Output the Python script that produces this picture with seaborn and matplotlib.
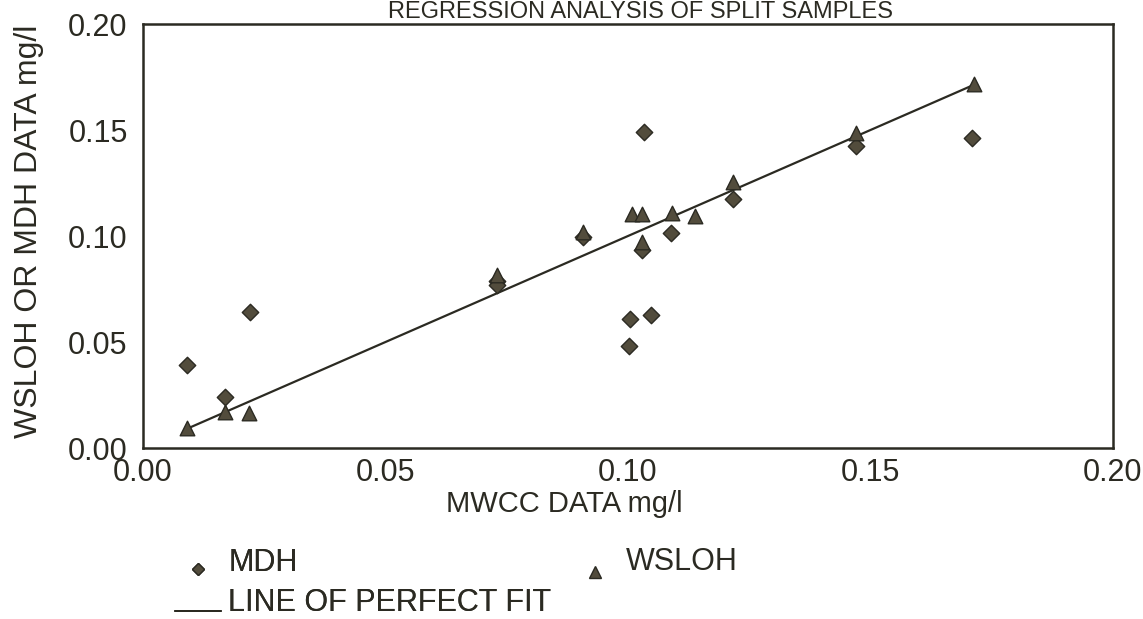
import matplotlib
matplotlib.use("Agg")
import matplotlib.pyplot as plt
import seaborn as sns
import pandas as pd
from matplotlib.lines import Line2D
from matplotlib.legend_handler import HandlerLine2D

# ---- data ----
mdh_x = [0.009, 0.017, 0.022, 0.073, 0.073, 0.0907, 0.1003, 0.1005, 0.1029, 0.1033,
         0.1047, 0.1089, 0.1216, 0.147, 0.171]
mdh_y = [0.039, 0.024, 0.064, 0.079, 0.077, 0.0995, 0.048, 0.061, 0.0935, 0.149,
         0.0628, 0.1015, 0.1175, 0.1425, 0.146]
wsloh_x = [0.009, 0.017, 0.0219, 0.073, 0.0907, 0.1008, 0.1029, 0.1029, 0.109,
           0.1138, 0.1216, 0.147, 0.1713]
wsloh_y = [0.0094, 0.017, 0.0165, 0.0817, 0.102, 0.1104, 0.1104, 0.097, 0.111,
           0.1095, 0.1255, 0.1487, 0.1717]
fit_x = [0.009, 0.171]
fit_y = [0.009, 0.171]
ticks = [0.00, 0.05, 0.10, 0.15, 0.20]
tick_labels = ["0.00", "0.05", "0.10", "0.15", "0.20"]

title = "REGRESSION ANALYSIS OF SPLIT SAMPLES"
xlabel = "MWCC DATA mg/l"
ylabel = "WSLOH OR MDH DATA mg/l"

sns.set_style("white")
plt.rcParams["font.family"] = ["Liberation Sans", "DejaVu Sans"]

ink = "#2b2a22"
marker_col = "#524c3c"


class LowHandler(HandlerLine2D):
    """Legend handle drawn lower in its box, as in the scanned original."""
    def __init__(self, frac, **kw):
        super().__init__(**kw)
        self.frac = frac

    def create_artists(self, legend, orig_handle, xdescent, ydescent,
                       width, height, fontsize, trans):
        arts = super().create_artists(legend, orig_handle, xdescent, ydescent,
                                      width, height, fontsize, trans)
        y = self.frac * height - ydescent
        for a in arts:
            a.set_ydata([y] * len(a.get_xdata()))
        return arts


fig = plt.figure(figsize=(11.43, 6.19), dpi=100)
ax = fig.add_axes([143/1143, 1-448/619, 970/1143, 424/619])

df_mdh = pd.DataFrame({"x": mdh_x, "y": mdh_y})
df_ws = pd.DataFrame({"x": wsloh_x, "y": wsloh_y})
df_fit = pd.DataFrame({"x": fit_x, "y": fit_y})

sns.lineplot(data=df_fit, x="x", y="y", ax=ax, color=ink, linewidth=1.6)
sns.scatterplot(data=df_mdh, x="x", y="y", ax=ax, marker="D", s=70,
                color=marker_col, edgecolor=ink, linewidth=1.0, zorder=3)
sns.scatterplot(data=df_ws, x="x", y="y", ax=ax, marker="^", s=110,
                color=marker_col, edgecolor=ink, linewidth=1.0, zorder=3)

ax.set_xlim(0, 0.20)
ax.set_ylim(0, 0.20)
ax.set_xticks(ticks)
ax.set_xticklabels(tick_labels)
ax.set_yticks(ticks)
ax.set_yticklabels(tick_labels)
ax.tick_params(axis="both", direction="in", length=8, width=1.2, color=ink,
               labelsize=22, labelcolor=ink)
ax.tick_params(axis="x", pad=7)
ax.tick_params(axis="y", pad=11)
for sp in ax.spines.values():
    sp.set_linewidth(1.8)
    sp.set_color(ink)

ax.set_xlabel(xlabel, fontsize=21, color=ink)
ax.xaxis.set_label_coords(0.434, -0.10)
ax.set_ylabel(ylabel, fontsize=23, color=ink)
ax.yaxis.set_label_coords(-0.102, 0.51)

fig.text(0.56, 0.999, title, ha="center", va="top",
         fontsize=17, color=ink)

h_mdh = Line2D([], [], marker="D", linestyle="none", markersize=6.5,
               markerfacecolor=marker_col, markeredgecolor=ink)
h_fit = Line2D([], [], color=ink, linewidth=1.4)
h_ws = Line2D([], [], marker="^", linestyle="none", markersize=8,
              markerfacecolor=marker_col, markeredgecolor=ink)

leg1 = fig.legend(handles=[h_mdh, h_fit], labels=["MDH", "LINE OF PERFECT FIT"],
                  loc="center left", bbox_to_anchor=(175/1143, 1 - 583/619),
                  frameon=False, fontsize=22, handlelength=1.5,
                  handletextpad=0.25, labelspacing=0.35, borderpad=0,
                  borderaxespad=0, labelcolor=ink,
                  handler_map={h_mdh: LowHandler(0.1), h_fit: LowHandler(0.0)})
leg2 = fig.legend(handles=[h_ws], labels=["WSLOH"],
                  loc="center left", bbox_to_anchor=(572/1143, 1 - 562/619),
                  frameon=False, fontsize=22, handlelength=1.5,
                  handletextpad=0.25, borderpad=0, borderaxespad=0,
                  labelcolor=ink, handler_map={h_ws: LowHandler(-0.1)})
fig.add_artist(leg1)

fig.savefig("out.png", dpi=100)
